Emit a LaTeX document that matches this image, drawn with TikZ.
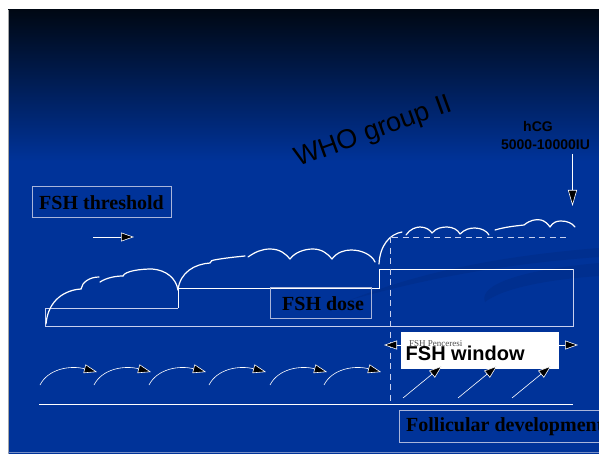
\documentclass[tikz,border=0pt]{standalone}
\usepackage{fontspec}
\setmainfont{Liberation Serif}
\setsansfont{Liberation Sans}
\usetikzlibrary{arrows.meta}
\definecolor{bgblue}{HTML}{003399}
\definecolor{bgtop}{HTML}{000814}
\definecolor{swoosh}{HTML}{002F8F}
\definecolor{boxline}{HTML}{A9B5DA}
\definecolor{stepgray}{HTML}{C8D0EE}
\tikzset{
  cloud/.style={draw=white, line width=1.2pt, line cap=round},
  tipped/.style={draw=white, line width=0.6pt, -{Triangle[length=13pt,width=9pt,fill=black]}},
  dtipped/.style={draw=white, line width=0.6pt, {Triangle[length=13pt,width=9pt,fill=black]}-{Triangle[length=13pt,width=9pt,fill=black]}},
  labelbox/.style={draw=boxline, line width=0.8pt},
  serifbold/.style={inner sep=0pt, anchor=base west, font=\fontsize{20}{24}\selectfont\bfseries, text=black},
  dashln/.style={draw=stepgray, line width=0.8pt, dash pattern=on 6pt off 4.5pt}
}
\begin{document}
\begin{tikzpicture}[x=1pt,y=-1pt]
\useasboundingbox (0,0) rectangle (599,454);
\clip (0,0) rectangle (599,454);
\fill[white] (0,0) rectangle (599,454);
% background
\fill[bgblue] (8,160) rectangle (599,454);
\shade[top color=bgtop, bottom color=bgblue] (8,10) rectangle (599,161);
% swoosh
\fill[swoosh] (350,300) .. controls (420,272) and (500,256) .. (599,248) -- (599,257) .. controls (500,264) and (420,280) .. (350,300) -- cycle;
\fill[swoosh] (485,302) .. controls (478,285) and (520,270) .. (599,263) -- (599,276) .. controls (540,280) and (500,290) .. (485,302) -- cycle;
\draw[color=gray!70, line width=1.5pt] (8.7,10) -- (8.7,454);
\draw[color=boxline!70!bgblue, line width=1pt] (8,452.8) -- (599,452.8);

% title
\node[inner sep=0pt, anchor=base west, rotate=20, font=\sffamily\fontsize{27}{30}\selectfont, text=black] (who) at (298,167) {WHO group II};

% hCG
\node[inner sep=0pt, anchor=base, font=\sffamily\bfseries\fontsize{14}{16}\selectfont, text=black] (hcg) at (538,131.5) {hCG};
\node[inner sep=0pt, anchor=base, font=\sffamily\bfseries\fontsize{14}{16}\selectfont, text=black] (iu) at (545.5,150) {5000-10000IU};
\coordinate (hcgA) at (572.5,154);
\coordinate (hcgB) at (572.5,206);
\draw[draw=white, line width=0.6pt, -{Triangle[length=16pt,width=9pt,fill=black]}] (hcgA) -- (hcgB);

% FSH threshold
\draw[labelbox] (32,186) rectangle (171,217);
\node[serifbold] (thr) at (39,209.3) {FSH threshold};
\coordinate (thrA) at (93,237);
\coordinate (thrB) at (134,237);
\draw[tipped] (thrA) -- (thrB);

% steps
\draw[stepgray, line width=0.8pt] (178,308) -- (45,308) -- (45,326) -- (573,326) -- (573,269);
\draw[white, line width=0.8pt] (178,308) -- (178,288) -- (379,288) -- (379,269) -- (573,269);

% FSH dose
\draw[labelbox] (270,287) rectangle (371,318);
\node[serifbold] (dose) at (282,310) {FSH dose};

% clouds
\draw[cloud] (46,324) .. controls (48,300) and (65,290) .. (81,289);
\draw[cloud] (81,289) .. controls (82,282) and (90,277) .. (99,277);
\draw[cloud] (100,282) .. controls (106,278) and (115,276) .. (123,276);
\draw[cloud] (123,276) .. controls (125,271) and (140,269) .. (152,269) .. controls (166,270) and (176,278) .. (178,290);
\draw[cloud] (178,290) .. controls (180,272) and (195,264) .. (210,263) .. controls (211,261) and (212,260) .. (214,260) .. controls (225,258) and (235,257) .. (245,256);
\draw[cloud] (248,257) .. controls (255,252) and (262,249) .. (270,249) .. controls (280,249) and (286,254) .. (290,259);
\draw[cloud] (290,259) .. controls (295,252) and (305,249) .. (313,249) .. controls (322,249) and (328,254) .. (332,259);
\draw[cloud] (332,259) .. controls (337,252) and (345,250) .. (351,250) .. controls (362,250) and (372,255) .. (375,262);
\draw[cloud] (379,264) .. controls (380,245) and (390,234) .. (402,232);
\draw[cloud] (406,235) .. controls (410,229) and (416,227) .. (420,227) .. controls (426,227) and (430,230) .. (432,233);
\draw[cloud] (432,233) .. controls (436,228) and (442,227) .. (447,227) .. controls (453,227) and (458,230) .. (460,234);
\draw[cloud] (460,234) .. controls (465,229) and (470,228) .. (475,228) .. controls (481,228) and (487,231) .. (489,235);
\draw[cloud] (495,230) .. controls (505,227) and (515,226) .. (524,225) .. controls (530,220) and (536,219) .. (541,220) .. controls (545,221) and (548,224) .. (550,227);
\draw[cloud] (550,227) .. controls (553,222) and (557,221) .. (561,221) .. controls (567,221) and (572,223) .. (575,227);

% dashed lines
\coordinate (dA) at (392,237);
\coordinate (dB) at (570,237);
\coordinate (dC) at (390.5,237);
\coordinate (dD) at (390.5,405);
\draw[dashln] (dA) -- (dB);
\draw[dashln] (dC) -- (dD);

% baseline
\coordinate (bA) at (39,404.5);
\coordinate (bB) at (573,404.5);
\draw[white, line width=0.8pt] (bA) -- (bB);

% curved arrows
\foreach \i/\sx in {1/40, 2/94, 3/149, 4/209, 5/270, 6/324} {
  \coordinate (cs\i) at (\sx,385);
  \coordinate (ce\i) at (\sx+57,372);
  \draw[tipped] (cs\i) .. controls ++(8,-16) and ++(-27,-7) .. (ce\i);
}

% FSH window
\coordinate (wA) at (384,345);
\coordinate (wB) at (578,345);
\draw[dtipped] (wA) -- (wB);
\fill[white] (401,332) rectangle (559,369);
\node[inner sep=0pt, anchor=base west, font=\fontsize{9}{10}\selectfont, text=black!70] (pen) at (409,346) {FSH Penceresi};
\node[inner sep=0pt, anchor=base west, font=\sffamily\bfseries\fontsize{20}{24}\selectfont, text=black] (win) at (405.5,360) {FSH window};

\foreach \i/\sx in {1/403, 2/458, 3/512} {
  \coordinate (ds\i) at (\sx,398);
  \coordinate (de\i) at (\sx+39,366);
  \draw[tipped] (ds\i) -- (de\i);
}

% Follicular development
\draw[labelbox] (399,410) rectangle (640,442);
\node[serifbold] (fol) at (406,431.7) {Follicular development};
\end{tikzpicture}
\end{document}
